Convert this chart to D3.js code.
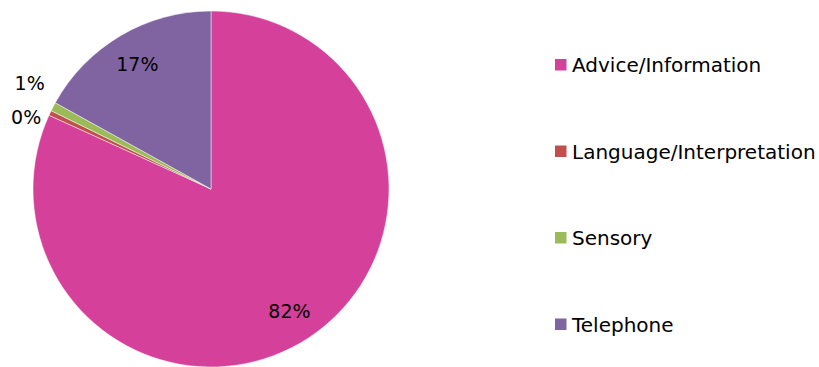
<!DOCTYPE html>
<html><head><meta charset="utf-8">
<script src="https://cdn.jsdelivr.net/npm/d3@7"></script>
<style>body{margin:0;background:#fff;}svg{display:block;}</style>
</head><body>
<script>
const categories = ["Advice/Information", "Language/Interpretation", "Sensory", "Telephone"];
const values = [81.8, 0.45, 0.8, 16.95];
const colors = ["#D4409A", "#C0504D", "#9BBB59", "#8064A2"];

const W = 819, H = 367;
const font = "'DejaVu Sans', sans-serif";
const svg = d3.select("body").append("svg").attr("width", W).attr("height", H);

const cx = 211, cy = 189, R = 178;
const data = categories.map((c, i) => ({ name: c, value: values[i], color: colors[i] }));
const total = d3.sum(values);
const pie = d3.pie().value(d => d.value).sort(null);
const arcs = pie(data);
const arc = d3.arc().innerRadius(0).outerRadius(R);
const g = svg.append("g").attr("transform", `translate(${cx},${cy})`);
g.selectAll("path").data(arcs).join("path")
  .attr("d", arc).attr("fill", d => d.data.color)
  .attr("stroke", "#fff").attr("stroke-width", 0.6).attr("stroke-opacity", 0.8);

const fmt = v => Math.round(v / total * 100) + "%";
const inArc = d3.arc().innerRadius(145).outerRadius(145);
const outArc = d3.arc().innerRadius(200).outerRadius(200);
const small = d => (d.endAngle - d.startAngle) < 0.3;

const outs = arcs.filter(small).map(d => { const p = outArc.centroid(d); return { d, x: p[0] - 4, y: p[1] }; });
outs.sort((a, b) => a.y - b.y);
const gap = 33.5;
if (outs.length > 1) {
  const mean = d3.mean(outs, o => o.y);
  const n = outs.length;
  outs.forEach((o, i) => { o.y = mean + (i - (n - 1) / 2) * gap; });
}
const labels = arcs.filter(d => !small(d)).map(d => { const p = inArc.centroid(d); return { d, x: p[0], y: p[1] }; }).concat(outs);
g.selectAll("text.lbl").data(labels).join("text")
  .attr("class", "lbl")
  .attr("x", o => o.x).attr("y", o => o.y)
  .attr("text-anchor", "middle").attr("dominant-baseline", "central")
  .attr("font-family", font).attr("font-size", 19).attr("fill", "#000")
  .text(o => fmt(o.d.data.value));

const ly = d3.scalePoint().domain(categories).range([64.8, 324.3]);
const lg = svg.append("g");
const items = lg.selectAll("g").data(data).join("g")
  .attr("transform", d => `translate(555,${ly(d.name)})`);
items.append("rect").attr("x", 0).attr("y", -5.8).attr("width", 11.5).attr("height", 11.5).attr("fill", d => d.color);
items.append("text").attr("x", 17).attr("y", 7.2)
  .attr("font-family", font).attr("font-size", 20).attr("fill", "#000")
  .text(d => d.name);
</script>
</body></html>
